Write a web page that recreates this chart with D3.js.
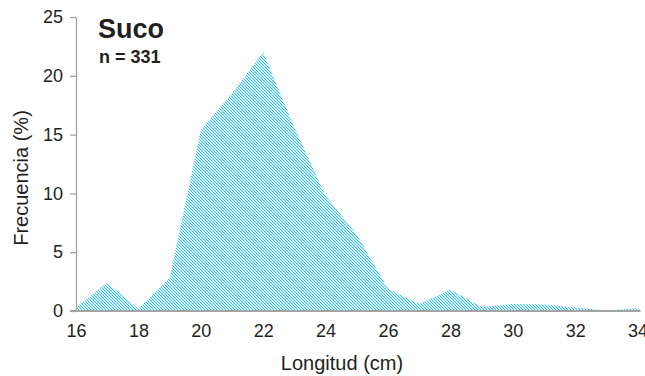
<!DOCTYPE html>
<html>
<head>
<meta charset="utf-8">
<script src="https://cdn.jsdelivr.net/npm/d3@7"></script>
<style>
  html, body { margin: 0; padding: 0; background: #fff; }
  svg { display: block; font-family: "Liberation Sans", Arial, sans-serif; }
</style>
</head>
<body>
<svg id="chart" width="645" height="376"></svg>
<script>
// Length classes (cm) and frequency (%) of the catch
const lengths = [16, 17, 18, 19, 20, 21, 22, 23, 24, 25, 26, 27, 28, 29, 30, 31, 32, 33, 34];
const frequency = [0.3, 2.4, 0.2, 2.8, 15.4, 18.5, 22.0, 15.6, 9.8, 6.5, 1.9, 0.6, 1.8, 0.35, 0.6, 0.55, 0.3, 0.05, 0.25];
const xTicks = [16, 18, 20, 22, 24, 26, 28, 30, 32, 34];
const yTicks = [0, 5, 10, 15, 20, 25];
const species = "Suco";
const sampleSize = "n = 331";

const svg = d3.select("#chart");
const textColor = "#231f20";
const axisColor = "#a3a3a3";
const fillColor = "#22c2f0";
const fillSoft = "#c6eefb";

const x = d3.scaleLinear().domain([16, 34]).range([76, 637.6]);
const y = d3.scaleLinear().domain([0, 25]).range([311, 17]);

// Diagonal hatch fill
const defs = svg.append("defs");
const pat = defs.append("pattern")
  .attr("id", "hatch")
  .attr("patternUnits", "userSpaceOnUse")
  .attr("width", 3).attr("height", 3);
pat.append("rect").attr("width", 3).attr("height", 3).attr("fill", "#ffffff");
[[0, 0], [1, 1], [2, 2]].forEach(([i, j]) => {
  pat.append("rect").attr("x", i).attr("y", j).attr("width", 1).attr("height", 1).attr("fill", fillColor);
});
[[1, 0], [2, 1], [0, 2]].forEach(([i, j]) => {
  pat.append("rect").attr("x", i).attr("y", j).attr("width", 1).attr("height", 1).attr("fill", fillSoft);
});

const data = lengths.map((l, i) => ({ l, f: frequency[i] }));

const area = d3.area()
  .x(d => x(d.l))
  .y0(y(0))
  .y1(d => y(d.f));

svg.append("path")
  .datum(data)
  .attr("d", area)
  .attr("fill", "url(#hatch)");

// Y axis
const yAxis = d3.axisLeft(y)
  .tickValues(yTicks)
  .tickSize(6)
  .tickSizeOuter(0)
  .tickPadding(7);
const gy = svg.append("g").attr("transform", "translate(76,0)").call(yAxis);
gy.select(".domain").attr("stroke", axisColor).attr("stroke-width", 1.3);
gy.selectAll(".tick line").attr("stroke", axisColor).attr("stroke-width", 1.3);
gy.selectAll(".tick text")
  .attr("fill", textColor)
  .attr("font-size", 18)
  .attr("font-family", "Liberation Sans, Arial, sans-serif");

// X axis (baseline and labels, no tick marks)
const xAxis = d3.axisBottom(x)
  .tickValues(xTicks)
  .tickSize(0)
  .tickSizeOuter(0)
  .tickPadding(13);
const gx = svg.append("g").attr("transform", `translate(0,${y(0)})`).call(xAxis);
gx.select(".domain").attr("stroke", axisColor).attr("stroke-width", 2)
  .attr("d", `M${x(16) - 6},0H${x(34) + 3}`);
gx.selectAll(".tick text")
  .attr("fill", textColor)
  .attr("font-size", 18)
  .attr("font-family", "Liberation Sans, Arial, sans-serif");

// Axis titles
svg.append("text")
  .attr("x", 342).attr("y", 370)
  .attr("text-anchor", "middle")
  .attr("font-size", 20)
  .attr("fill", textColor)
  .text("Longitud (cm)");

svg.append("text")
  .attr("transform", "translate(28,178) rotate(-90)")
  .attr("text-anchor", "middle")
  .attr("font-size", 20)
  .attr("fill", textColor)
  .text("Frecuencia (%)");

// Species and sample size
svg.append("text")
  .attr("x", 98).attr("y", 38)
  .attr("font-size", 27)
  .attr("font-weight", "bold")
  .attr("fill", textColor)
  .text(species);

svg.append("text")
  .attr("x", 99).attr("y", 63)
  .attr("font-size", 18)
  .attr("font-weight", "bold")
  .attr("fill", textColor)
  .text(sampleSize);
</script>
</body>
</html>
